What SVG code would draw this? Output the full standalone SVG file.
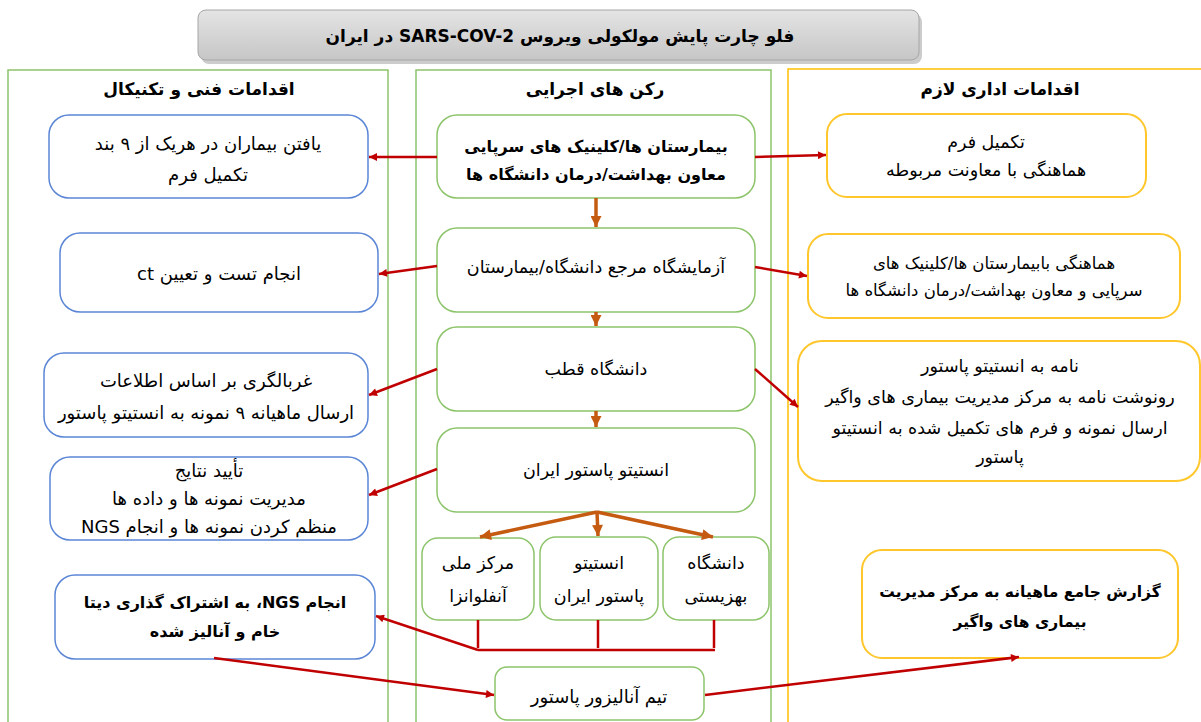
<svg xmlns="http://www.w3.org/2000/svg" width="1201" height="722" viewBox="0 0 1201 722">
<defs>
<linearGradient id="tg" x1="0" y1="0" x2="0" y2="1">
<stop offset="0" stop-color="#e4e4e4"/><stop offset="1" stop-color="#c6c6c6"/>
</linearGradient>
<marker id="ar" viewBox="0 0 10 10" refX="10" refY="5" markerWidth="11" markerHeight="8" markerUnits="userSpaceOnUse" orient="auto"><path d="M0,0 L10,5 L0,10 z" fill="#c00000"/></marker>
<marker id="ao" viewBox="0 0 10 10" refX="10" refY="5" markerWidth="12" markerHeight="11" markerUnits="userSpaceOnUse" orient="auto"><path d="M0,0 L10,5 L0,10 z" fill="#c55a11"/></marker>
<style>
text{font-family:"DejaVu Sans","Noto Sans",sans-serif;fill:#000;text-anchor:middle;direction:rtl;dominant-baseline:central}
.t{font-size:17px;font-weight:bold}
.h{font-size:17px;font-weight:bold}
.b{font-size:18px}
.s{font-size:17.5px}
.m{font-size:16px;font-weight:bold}
.panG{fill:none;stroke:#8cc46a;stroke-width:1.5}
.panY{fill:none;stroke:#ffc000;stroke-width:1.5}
.nb{fill:#fff;stroke:#5b86d6;stroke-width:1.5}
.ng{fill:#fff;stroke:#8cc46a;stroke-width:1.5}
.ny{fill:#fff;stroke:#ffc72c;stroke-width:2}
.r{fill:none;stroke:#c00000;stroke-width:2.5}
.o{fill:none;stroke:#c55a11;stroke-width:3.5}
</style>
</defs>
<rect width="1201" height="722" fill="#fff"/>

<g id="title">
<rect x="200" y="12" width="721" height="50" rx="8" fill="#9a9a9a" opacity="0.5" transform="translate(1,2)"/>
<rect x="198" y="10" width="721" height="50" rx="8" fill="url(#tg)" stroke="#a6a6a6" stroke-width="1"/>
<text class="t" x="560" y="36">فلو چارت پایش مولکولی ویروس SARS-COV-2 در ایران</text>
</g>

<g id="panel-left">
<rect class="panG" x="8" y="70" width="380" height="700"/>
<text class="h" x="199" y="89">اقدامات فنی و تکنیکال</text>
</g>
<g id="panel-mid">
<rect class="panG" x="416" y="70" width="355" height="700"/>
<text class="h" x="595" y="89">رکن های اجرایی</text>
</g>
<g id="panel-right">
<rect class="panY" x="788" y="69" width="430" height="700"/>
<text class="h" x="1000" y="89">اقدامات اداری لازم</text>
</g>

<g id="L1"><rect class="nb" x="49" y="115" width="319" height="83" rx="20"/>
<text class="b" x="208" y="143">یافتن بیماران در هریک از ۹ بند</text>
<text class="b" x="208" y="174">تکمیل فرم</text></g>
<g id="L2"><rect class="nb" x="60" y="233" width="318" height="79" rx="20"/>
<text class="b" x="219" y="273">انجام تست و تعیین ct</text></g>
<g id="L3"><rect class="nb" x="44" y="353" width="324" height="84" rx="20"/>
<text class="b" x="206" y="380">غربالگری بر اساس اطلاعات</text>
<text class="b" x="206" y="412">ارسال ماهیانه ۹ نمونه به انستیتو پاستور</text></g>
<g id="L4"><rect class="nb" x="50" y="457" width="318" height="83" rx="20"/>
<text class="b" x="209" y="470">تأیید نتایج</text>
<text class="b" x="209" y="498">مدیریت نمونه ها و داده ها</text>
<text class="b" x="209" y="526">منظم کردن نمونه ها و انجام NGS</text></g>
<g id="L5"><rect class="nb" x="55" y="575" width="320" height="84" rx="20"/>
<text class="m" x="215" y="602">انجام NGS، به اشتراک گذاری دیتا</text>
<text class="m" x="215" y="631">خام و آنالیز شده</text></g>

<g id="M1"><rect class="ng" x="437" y="115" width="318" height="83" rx="20"/>
<text class="m" x="596" y="146">بیمارستان ها/کلینیک های سرپایی</text>
<text class="m" x="596" y="174">معاون بهداشت/درمان دانشگاه ها</text></g>
<g id="M2"><rect class="ng" x="437" y="228" width="318" height="84" rx="20"/>
<text class="s" x="596" y="267">آزمایشگاه مرجع دانشگاه/بیمارستان</text></g>
<g id="M3"><rect class="ng" x="437" y="327" width="318" height="84" rx="20"/>
<text class="s" x="596" y="369">دانشگاه قطب</text></g>
<g id="M4"><rect class="ng" x="437" y="428" width="318" height="84" rx="20"/>
<text class="s" x="596" y="470">انستیتو پاستور ایران</text></g>
<g id="S1"><rect class="ng" x="422" y="538" width="112" height="82" rx="16"/>
<text class="s" x="478" y="563">مرکز ملی</text>
<text class="s" x="478" y="596">آنفلوانزا</text></g>
<g id="S2"><rect class="ng" x="540" y="537" width="118" height="83" rx="16"/>
<text class="s" x="599" y="563">انستیتو</text>
<text class="s" x="599" y="596">پاستور ایران</text></g>
<g id="S3"><rect class="ng" x="663" y="537" width="106" height="83" rx="16"/>
<text class="s" x="716" y="563">دانشگاه</text>
<text class="s" x="716" y="596">بهزیستی</text></g>
<g id="M5"><rect class="ng" x="495" y="667" width="209" height="53" rx="12"/>
<text class="b" x="599" y="696">تیم آنالیزور پاستور</text></g>

<g id="R1"><rect class="ny" x="827" y="114" width="319" height="83" rx="20"/>
<text class="s" x="986" y="142">تکمیل فرم</text>
<text class="s" x="986" y="170">هماهنگی با معاونت مربوطه</text></g>
<g id="R2"><rect class="ny" x="808" y="234" width="372" height="84" rx="20"/>
<text class="b" x="994" y="263" style="font-size:16.5px">هماهنگی بابیمارستان ها/کلینیک های</text>
<text class="b" x="994" y="290" style="font-size:16.5px">سرپایی و معاون بهداشت/درمان دانشگاه ها</text></g>
<g id="R3"><rect class="ny" x="798" y="341" width="402" height="140" rx="24"/>
<text class="s" x="1000" y="366">نامه به انستیتو پاستور</text>
<text class="s" x="1000" y="397">رونوشت نامه به مرکز مدیریت بیماری های واگیر</text>
<text class="s" x="1000" y="428">ارسال نمونه و فرم های تکمیل شده به انستیتو</text>
<text class="s" x="1000" y="457">پاستور</text></g>
<g id="R4"><rect class="ny" x="862" y="550" width="316" height="108" rx="20"/>
<text class="m" x="1020" y="592" style="font-size:15.5px">گزارش جامع ماهیانه به مرکز مدیریت</text>
<text class="m" x="1020" y="622" style="font-size:15.5px">بیماری های واگیر</text></g>

<g id="connectors">
<line class="o" x1="596" y1="198" x2="596" y2="227" marker-end="url(#ao)"/>
<line class="o" x1="596" y1="312" x2="596" y2="326" marker-end="url(#ao)"/>
<line class="o" x1="596" y1="411" x2="596" y2="427" marker-end="url(#ao)"/>
<line class="o" x1="597" y1="512" x2="480" y2="537" marker-end="url(#ao)"/>
<line class="o" x1="597" y1="512" x2="598" y2="536" marker-end="url(#ao)"/>
<line class="o" x1="597" y1="512" x2="713" y2="537" marker-end="url(#ao)"/>

<line class="r" x1="437" y1="157" x2="369" y2="157" marker-end="url(#ar)"/>
<line class="r" x1="755" y1="157" x2="826" y2="155" marker-end="url(#ar)"/>
<line class="r" x1="437" y1="266" x2="379" y2="274" marker-end="url(#ar)"/>
<line class="r" x1="755" y1="267" x2="807" y2="276" marker-end="url(#ar)"/>
<line class="r" x1="437" y1="369" x2="369" y2="395" marker-end="url(#ar)"/>
<line class="r" x1="755" y1="369" x2="798" y2="407" marker-end="url(#ar)"/>
<line class="r" x1="437" y1="469" x2="369" y2="495" marker-end="url(#ar)"/>

<line class="r" x1="478" y1="620" x2="478" y2="648" stroke-width="2"/>
<line class="r" x1="598" y1="620" x2="598" y2="648" stroke-width="2"/>
<line class="r" x1="714" y1="620" x2="714" y2="648" stroke-width="2"/>
<line class="r" x1="478" y1="650" x2="715" y2="650" stroke-width="2"/>
<line class="r" x1="478" y1="650" x2="376" y2="616" marker-end="url(#ar)"/>
<line class="r" x1="214" y1="658" x2="494" y2="695" marker-end="url(#ar)"/>
<line class="r" x1="705" y1="695" x2="1019" y2="657" marker-end="url(#ar)"/>
</g>
</svg>
